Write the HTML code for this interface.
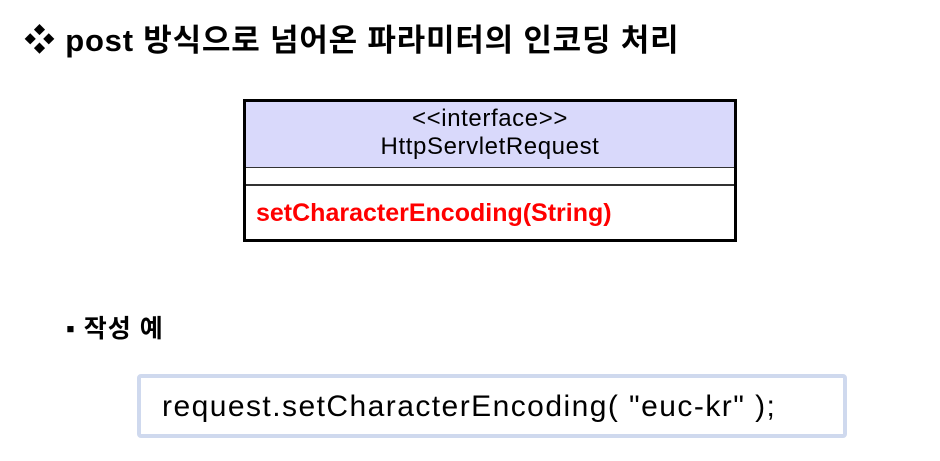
<!DOCTYPE html>
<html><head><meta charset="utf-8"><style>
body{margin:0;width:940px;height:461px;background:#fff;position:relative;overflow:hidden;font-family:"Liberation Sans","Noto Sans CJK KR",sans-serif;}
.t{position:absolute;white-space:nowrap;}
</style></head><body>
<div class="t" style="left:24px;top:20px;font-size:31px;font-weight:bold;line-height:42px;letter-spacing:0.8px;color:#000;">❖ post 방식으로 넘어온 파라미터의 인코딩 처리</div>
<div style="position:absolute;left:243px;top:99px;width:488px;height:137px;border:3px solid #000;">
 <div style="height:66px;background:#d9d9fb;border-bottom:1px solid #333;text-align:center;font-size:24px;line-height:28px;letter-spacing:0.6px;padding-top:3px;box-sizing:border-box;">&lt;&lt;interface&gt;&gt;<br>HttpServletRequest</div>
 <div style="height:16px;border-bottom:2px solid #333;"></div>
 <div style="padding-left:10px;padding-top:13px;font-size:25px;font-weight:bold;color:#f00;">setCharacterEncoding(String)</div>
</div>
<div class="t" style="left:66px;top:313px;font-size:25px;font-weight:bold;line-height:32px;letter-spacing:1px;">▪ 작성 예</div>
<div style="position:absolute;left:137px;top:374px;width:702px;height:56px;border:4px solid #cfd9ee;border-radius:4px;"></div>
<div class="t" style="left:162px;top:388px;font-size:30px;line-height:38px;letter-spacing:1.45px;">request.setCharacterEncoding( "euc-kr" );</div>
</body></html>
